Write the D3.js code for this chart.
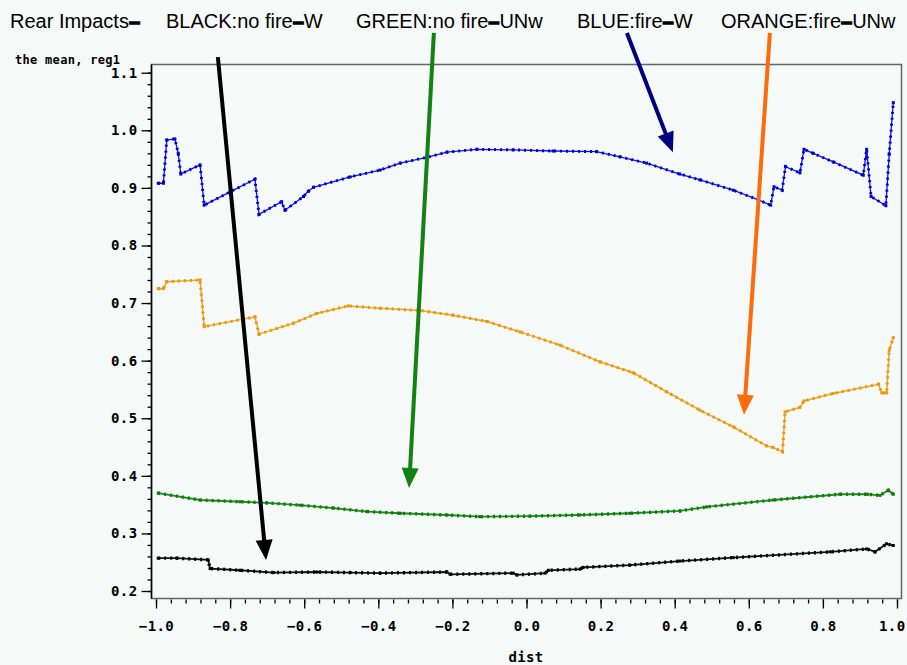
<!DOCTYPE html>
<meta charset="utf-8">
<style>
body { margin: 0; background: #f5f9f7; }
svg { display: block; background: #f5f9f7; }
.title { font-family: "Liberation Sans", Arial, sans-serif; font-size: 20px; fill: #000; }
.title .dash { font-weight: bold; stroke: #000; stroke-width: 1.3px; }
.lab { font-family: "DejaVu Sans Mono", monospace; font-weight: bold; font-size: 12px; letter-spacing: 0.3px; fill: #000; }
.axis text { font-family: "DejaVu Sans Mono", monospace; font-weight: bold; font-size: 14px; letter-spacing: 0.4px; fill: #000; }
.axis line { stroke: #000; stroke-width: 1.3px; }
.axis .domain { display: none; }
.frame { fill: none; stroke: #666; stroke-width: 1.5px; }
</style>
<body>
<script src="https://d3js.org/d3.v7.min.js"></script>
<script>

// series: [dist, mean of reg1]
var blue = [
  [-0.994, 0.908], [-0.980, 0.908], [-0.971, 0.983], [-0.949, 0.985], [-0.940, 0.960],
  [-0.933, 0.924], [-0.881, 0.940], [-0.870, 0.870], [-0.800, 0.893], [-0.733, 0.915],
  [-0.722, 0.854], [-0.661, 0.876], [-0.652, 0.861], [-0.602, 0.885], [-0.589, 0.894],
  [-0.575, 0.901], [-0.476, 0.919], [-0.395, 0.931], [-0.341, 0.943], [-0.269, 0.953],
  [-0.215, 0.962], [-0.134, 0.967], [-0.036, 0.966], [0.072, 0.964], [0.189, 0.963],
  [0.252, 0.954], [0.324, 0.943], [0.414, 0.924], [0.468, 0.914], [0.558, 0.896],
  [0.626, 0.879], [0.659, 0.870], [0.668, 0.902], [0.690, 0.896], [0.699, 0.937],
  [0.738, 0.926], [0.749, 0.967], [0.774, 0.960], [0.828, 0.945], [0.909, 0.922],
  [0.918, 0.967], [0.930, 0.885], [0.970, 0.869], [0.979, 0.959], [0.990, 1.048]
];

var orange = [
  [-0.994, 0.725], [-0.980, 0.725], [-0.971, 0.737], [-0.881, 0.740], [-0.870, 0.659],
  [-0.733, 0.676], [-0.722, 0.646], [-0.629, 0.665], [-0.566, 0.682], [-0.481, 0.695],
  [-0.395, 0.691], [-0.287, 0.687], [-0.198, 0.679], [-0.107, 0.668], [-0.018, 0.650],
  [0.090, 0.627], [0.198, 0.598], [0.288, 0.579], [0.378, 0.546], [0.468, 0.514],
  [0.558, 0.485], [0.648, 0.452], [0.666, 0.449], [0.691, 0.442], [0.698, 0.511],
  [0.738, 0.519], [0.749, 0.530], [0.828, 0.543], [0.950, 0.559], [0.959, 0.544],
  [0.972, 0.544], [0.979, 0.618], [0.990, 0.640]
];

var green = [
  [-0.994, 0.370], [-0.881, 0.358], [-0.773, 0.355], [-0.701, 0.353], [-0.611, 0.349],
  [-0.521, 0.344], [-0.431, 0.338], [-0.341, 0.335], [-0.215, 0.332], [-0.126, 0.329],
  [0.009, 0.330], [0.144, 0.332], [0.279, 0.335], [0.414, 0.339], [0.486, 0.346],
  [0.666, 0.358], [0.846, 0.368], [0.920, 0.368], [0.954, 0.366], [0.977, 0.375],
  [0.990, 0.368]
];

var black = [
  [-0.994, 0.257], [-0.944, 0.257], [-0.859, 0.254], [-0.854, 0.239], [-0.773, 0.236],
  [-0.683, 0.232], [-0.566, 0.233], [-0.476, 0.232], [-0.395, 0.231], [-0.215, 0.233],
  [-0.206, 0.229], [-0.036, 0.231], [-0.026, 0.228], [0.050, 0.231], [0.059, 0.236],
  [0.144, 0.238], [0.153, 0.241], [0.279, 0.245], [0.414, 0.252], [0.558, 0.258],
  [0.820, 0.268], [0.918, 0.273], [0.941, 0.268], [0.972, 0.282], [0.990, 0.279]
];

// annotation arrows: [fromDist, fromMean, toDist, toMean]
var arrowBlack  = [-0.833, 1.127, -0.703, 0.254];
var arrowGreen  = [-0.250, 1.169, -0.317, 0.379];
var arrowBlue   = [0.271, 1.169, 0.395, 0.962];
var arrowOrange = [0.657, 1.169, 0.587, 0.506];

// title pieces
var titleParts = ["Rear Impacts", "BLACK:no fire", "GREEN:no fire", "BLUE:fire", "ORANGE:fire"];
var titleEnds  = ["", "W", "UNw", "W", "UNw"];

var xMajor = d3.range(-10, 11, 2).map(function(d) { return d / 10; });
var xMinor = d3.range(-50, 51, 2).map(function(d) { return d / 50; });
var yMajor = d3.range(2, 12).map(function(d) { return d / 10; });
var yMinor = d3.range(10, 56).map(function(d) { return d / 50; });

var W = 907, H = 665;
var frame = {left: 151.5, right: 901.5, top: 64.5, bottom: 598.5};

var x = d3.scaleLinear().domain([-1, 1]).range([156, 897]);
var y = d3.scaleLinear().domain([0.2, 1.1]).range([591, 72.7]);

var svg = d3.select("body").append("svg")
    .attr("width", W)
    .attr("height", H);

// title
var tx = [10, 166, 356, 577, 721];
titleParts.forEach(function(t, i) {
  var txt = svg.append("text").attr("class", "title")
      .attr("x", tx[i]).attr("y", 28);
  txt.append("tspan").text(t);
  txt.append("tspan").attr("class", "dash").text("\u2013");
  if (titleEnds[i]) txt.append("tspan").text(titleEnds[i]);
});

// y label
svg.append("text").attr("class", "lab")
    .attr("x", 15).attr("y", 64)
    .text("the mean, reg1");

// frame
svg.append("rect").attr("class", "frame")
    .attr("x", frame.left).attr("y", frame.top)
    .attr("width", frame.right - frame.left)
    .attr("height", frame.bottom - frame.top);
svg.append("line")
    .attr("x1", frame.left).attr("x2", frame.left)
    .attr("y1", frame.top).attr("y2", frame.bottom)
    .style("stroke", "#000").style("stroke-width", 1.5);

// axes
svg.append("g").attr("class", "axis")
    .attr("transform", "translate(" + frame.left + ",0)")
    .call(d3.axisLeft(y).tickValues(yMinor).tickSize(4).tickFormat(""));
svg.append("g").attr("class", "axis")
    .attr("transform", "translate(" + frame.left + ",0)")
    .call(d3.axisLeft(y).tickValues(yMajor).tickSize(10).tickPadding(4)
      .tickFormat(d3.format(".1f")));

svg.append("g").attr("class", "axis")
    .attr("transform", "translate(0," + (frame.bottom + 1) + ")")
    .call(d3.axisBottom(x).tickValues(xMinor).tickSize(4).tickFormat(""));
var xg = svg.append("g").attr("class", "axis")
    .attr("transform", "translate(0," + (frame.bottom + 1) + ")")
    .call(d3.axisBottom(x).tickValues(xMajor).tickSize(9).tickPadding(13)
      .tickFormat(d3.format(".1f")));
// last label pulled inside the page like the original
xg.selectAll(".tick").filter(function(d) { return d === 1; })
    .select("text").attr("text-anchor", "end").attr("x", 8);

svg.append("text").attr("class", "lab")
    .attr("x", 526).attr("y", 662)
    .attr("text-anchor", "middle")
    .style("font-size", "14px")
    .text("dist");

// lines
var line = d3.line()
    .x(function(d) { return x(d[0]); })
    .y(function(d) { return y(d[1]); });

function series(data, col, mcol, w) {
  svg.append("path").datum(data)
      .attr("d", line)
      .style("fill", "none").style("stroke", col)
      .style("stroke-width", w);
  // dense point markers look
  svg.append("path").datum(data)
      .attr("d", line)
      .style("fill", "none").style("stroke", mcol)
      .style("stroke-width", w + 1.6)
      .style("stroke-dasharray", "2 4");
  svg.selectAll(null).data(data).enter().append("rect")
      .attr("x", function(d) { return x(d[0]) - 1.5; })
      .attr("y", function(d) { return y(d[1]) - 1.5; })
      .attr("width", 3).attr("height", 3)
      .style("fill", mcol);
}

series(blue, "#1010f0", "#0000c8", 1.3);
series(orange, "#f2a51a", "#e39a10", 1.5);
series(green, "#1a8c1a", "#107a10", 1.8);
series(black, "#111", "#000", 1.8);

// arrows
function arrow(a, col) {
  var x0 = x(a[0]), y0 = y(a[1]), x1 = x(a[2]), y1 = y(a[3]);
  var dx = x1 - x0, dy = y1 - y0, len = Math.sqrt(dx * dx + dy * dy);
  var ux = dx / len, uy = dy / len;
  var hl = 20, hw = 8.5;
  var bx = x1 - ux * hl, by = y1 - uy * hl;
  svg.append("line")
      .attr("x1", x0).attr("y1", y0)
      .attr("x2", bx + ux * 2).attr("y2", by + uy * 2)
      .style("stroke", col).style("stroke-width", 4);
  svg.append("polygon")
      .attr("points", [
        [x1, y1],
        [bx - uy * hw, by + ux * hw],
        [bx + uy * hw, by - ux * hw]
      ].map(function(p) { return p.join(","); }).join(" "))
      .style("fill", col);
}

arrow(arrowBlack, "#000");
arrow(arrowGreen, "#138213");
arrow(arrowBlue, "#00007f");
arrow(arrowOrange, "#ff6a0a");

</script>
</body>
